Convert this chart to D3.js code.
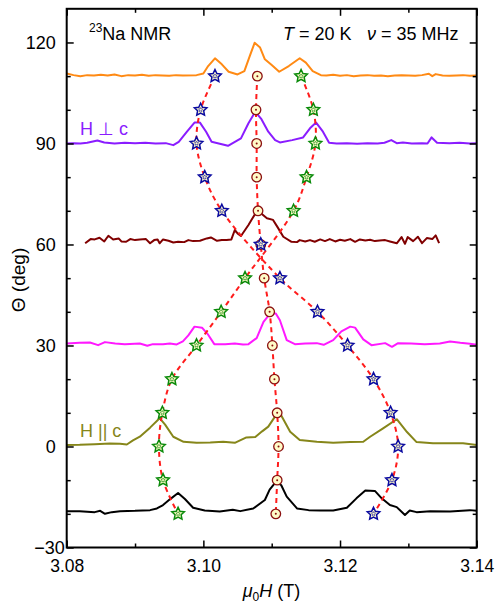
<!DOCTYPE html>
<html>
<head>
<meta charset="utf-8">
<title>23Na NMR angular dependence</title>
<script src="https://d3js.org/d3.v7.min.js"></script>
<style>
  body{ margin:0; background:#fff; }
  text{ font-family: Arial, "Liberation Sans", sans-serif; }
</style>
</head>
<body>
<svg width="497" height="602"></svg>
<script>
// ### Data ###
const xMajor = [3.08, 3.10, 3.12, 3.14];
const xMinor = [3.09, 3.11, 3.13];
const yMajor = [-30, 0, 30, 60, 90, 120];
const yMinor = [-20, -10, 10, 20, 40, 50, 70, 80, 100, 110];

// peak positions (T) against angle (deg)
const angles      = [110, 100, 90, 80, 70, 60, 50, 40, 30, 20, 10, 0, -10, -20];
const centerField = [3.1079, 3.1077, 3.1078, 3.1078, 3.1080, 3.1084, 3.1089, 3.1097, 3.1101, 3.1104, 3.1108, 3.1110, 3.1108, 3.1106];
const greenField  = [3.1143, 3.1161, 3.1164, 3.1151, 3.1132, null, 3.1061, 3.1026, 3.0990, 3.0954, 3.0940, 3.0935, 3.0941, 3.0963];
const blueField   = [3.1017, 3.0996, 3.0990, 3.1002, 3.1027, 3.1084, 3.1112, 3.1167, 3.1211, 3.1249, 3.1274, 3.1285, 3.1276, 3.1249];
const blueOffGuide = 60; // merged peak at 60 deg, the satellite guide line does not go through it

// spectra: [field (T), offset intensity on the angle axis]
const spec110 = [[3.0800,110.8],[3.0810,110.3],[3.0820,110.0],[3.0830,110.3],[3.0840,110.2],[3.0850,110.4],[3.0860,110.2],
  [3.0870,110.5],[3.0880,110.0],[3.0890,110.3],[3.0900,110.2],[3.0910,110.4],[3.0920,110.1],[3.0930,110.3],[3.0940,110.2],
  [3.0950,110.1],[3.0960,110.3],[3.0970,110.2],[3.0990,110.3],[3.1000,110.8],[3.1007,113.0],[3.1017,115.3],[3.1027,113.5],
  [3.1037,111.3],[3.1050,110.5],[3.1060,111.5],[3.1068,116.0],[3.1075,119.9],[3.1083,118.5],[3.1090,115.0],[3.1100,113.3],
  [3.1111,111.3],[3.1125,113.0],[3.1141,115.3],[3.1150,114.0],[3.1160,111.5],[3.1172,110.3],[3.1180,110.2],[3.1190,110.4],
  [3.1200,110.1],[3.1210,110.3],[3.1220,110.0],[3.1230,110.2],[3.1240,110.3],[3.1250,110.1],[3.1260,110.2],[3.1270,110.0],
  [3.1280,110.2],[3.1290,110.3],[3.1300,110.2],[3.1310,110.1],[3.1320,110.3],[3.1330,110.7],[3.1335,110.0],[3.1340,110.6],
  [3.1350,110.2],[3.1360,110.1],[3.1370,110.2],[3.1380,110.3],[3.1390,110.1],[3.1400,110.2]];

const spec90 = [[3.0800,90.0],[3.0810,90.1],[3.0820,90.0],[3.0830,90.2],[3.0845,90.9],[3.0855,90.3],[3.0870,90.0],
  [3.0885,90.2],[3.0900,90.1],[3.0915,90.2],[3.0930,90.0],[3.0945,90.1],[3.0956,89.5],[3.0964,90.5],[3.0976,93.5],
  [3.0987,96.2],[3.0995,96.2],[3.1004,93.5],[3.1012,90.5],[3.1036,89.3],[3.1055,91.5],[3.1066,96.0],[3.1076,99.4],
  [3.1085,97.2],[3.1095,93.5],[3.1105,91.0],[3.1112,90.3],[3.1130,91.0],[3.1146,91.8],[3.1156,94.5],[3.1165,96.2],
  [3.1175,93.5],[3.1184,90.2],[3.1195,90.0],[3.1210,90.1],[3.1225,89.9],[3.1240,90.1],[3.1255,90.0],[3.1265,90.2],
  [3.1275,91.0],[3.1283,90.1],[3.1292,90.3],[3.1305,90.0],[3.1320,90.1],[3.1328,90.0],[3.1334,91.8],[3.1342,90.2],
  [3.1360,90.1],[3.1375,90.2],[3.1390,90.0],[3.1400,90.1]];

const spec60 = [[3.0827,60.35],[3.0835,61.6],[3.0841,61.5],[3.0848,62.0],[3.0855,60.9],[3.0861,62.6],[3.0868,61.5],
  [3.0876,61.8],[3.0880,60.9],[3.0887,60.8],[3.0893,61.6],[3.0900,61.3],[3.0907,61.5],[3.0916,61.6],[3.0922,60.35],
  [3.0928,61.3],[3.0933,61.5],[3.0936,60.35],[3.0941,61.5],[3.0949,61.1],[3.0956,60.6],[3.0963,60.8],[3.0972,60.7],
  [3.0978,61.3],[3.0985,61.0],[3.0995,61.1],[3.1005,61.8],[3.1011,62.1],[3.1020,61.1],[3.1027,61.3],[3.1034,61.3],
  [3.1041,61.5],[3.1046,64.3],[3.1050,63.3],[3.1055,62.5],[3.1061,64.3],[3.1066,65.8],[3.1071,67.5],[3.1077,69.5],
  [3.1080,70.2],[3.1086,69.0],[3.1093,67.8],[3.1102,67.3],[3.1109,65.0],[3.1117,62.3],[3.1129,60.8],[3.1137,60.7],
  [3.1141,61.3],[3.1149,60.9],[3.1156,61.3],[3.1163,60.8],[3.1171,61.5],[3.1178,61.0],[3.1185,61.6],[3.1193,60.9],
  [3.1200,61.4],[3.1207,61.1],[3.1215,61.6],[3.1222,60.8],[3.1229,61.5],[3.1237,61.2],[3.1244,61.4],[3.1251,61.0],
  [3.1258,61.2],[3.1266,61.3],[3.1273,60.9],[3.1283,60.35],[3.1290,62.2],[3.1295,60.2],[3.1299,62.2],[3.1307,61.0],
  [3.1314,62.3],[3.1320,60.4],[3.1327,61.9],[3.1335,61.6],[3.1340,62.7],[3.1345,60.4]];

const spec30 = [[3.0800,30.6],[3.0819,30.8],[3.0834,30.9],[3.0846,30.1],[3.0856,31.0],[3.0871,30.6],[3.0885,30.4],
  [3.0907,30.6],[3.0918,29.9],[3.0926,30.4],[3.0941,30.4],[3.0951,30.6],[3.0961,30.3],[3.0970,31.2],[3.0978,33.0],
  [3.0987,35.6],[3.0998,35.3],[3.1007,33.2],[3.1016,30.4],[3.1032,30.4],[3.1046,30.6],[3.1058,30.3],[3.1066,30.4],
  [3.1078,32.2],[3.1088,37.0],[3.1098,39.55],[3.1106,39.5],[3.1112,37.5],[3.1122,31.6],[3.1134,30.4],[3.1149,30.6],
  [3.1166,30.7],[3.1176,30.2],[3.1190,31.6],[3.1202,34.2],[3.1215,35.6],[3.1222,35.3],[3.1234,31.8],[3.1246,30.1],
  [3.1266,30.7],[3.1276,29.6],[3.1285,30.7],[3.1304,30.6],[3.1324,30.4],[3.1346,30.6],[3.1361,31.2],[3.1376,30.8],
  [3.1390,30.5],[3.1400,30.2]];

const spec0 = [[3.0800,0.45],[3.0819,0.5],[3.0841,0.7],[3.0863,0.9],[3.0878,0.8],[3.0888,0.6],[3.0897,1.8],
  [3.0907,2.9],[3.0922,5.6],[3.0936,8.4],[3.0944,6.5],[3.0956,2.9],[3.0971,1.4],[3.0990,1.1],[3.1010,1.2],
  [3.1029,1.4],[3.1046,1.1],[3.1063,2.7],[3.1076,2.8],[3.1086,4.5],[3.1095,5.9],[3.1108,9.85],[3.1113,9.6],
  [3.1127,4.4],[3.1141,1.9],[3.1166,1.4],[3.1190,1.1],[3.1215,1.3],[3.1234,1.4],[3.1244,2.9],[3.1263,5.4],
  [3.1283,8.1],[3.1298,4.3],[3.1312,1.3],[3.1336,0.95],[3.1361,0.95],[3.1380,0.95],[3.1400,0.45]];

const specM20 = [[3.0800,-19.2],[3.0819,-19.2],[3.0841,-19.5],[3.0849,-19.1],[3.0856,-20.0],[3.0866,-19.5],[3.0878,-19.2],
  [3.0900,-19.1],[3.0922,-18.9],[3.0932,-18.4],[3.0941,-17.4],[3.0951,-15.7],[3.0963,-13.8],[3.0973,-15.6],[3.0985,-18.2],
  [3.1002,-19.0],[3.1024,-19.3],[3.1043,-18.8],[3.1054,-19.2],[3.1073,-18.4],[3.1090,-15.9],[3.1097,-12.8],[3.1107,-10.3],
  [3.1114,-11.5],[3.1122,-14.9],[3.1137,-18.4],[3.1154,-18.9],[3.1171,-19.0],[3.1190,-19.0],[3.1210,-18.2],[3.1224,-15.4],
  [3.1237,-13.1],[3.1251,-13.2],[3.1261,-15.4],[3.1273,-17.4],[3.1283,-18.0],[3.1295,-20.35],[3.1302,-19.0],[3.1312,-19.5],
  [3.1332,-19.2],[3.1361,-19.3],[3.1390,-18.9],[3.1400,-19.1]];

const spectra = [
  {data: spec110, color: "#ff8a14"},
  {data: spec90,  color: "#8a1cff"},
  {data: spec60,  color: "#800000"},
  {data: spec30,  color: "#ff19ff"},
  {data: spec0,   color: "#86861a"},
  {data: specM20, color: "#000000"}
];

// ### Chart ###
var svg = d3.select("svg"),
    margin = {top: 8.8, right: 20.3, bottom: 54.5, left: 66.7},
    width = +svg.attr("width") - margin.left - margin.right,
    height = +svg.attr("height") - margin.top - margin.bottom,
    g = svg.append("g").attr("transform", "translate(" + margin.left + "," + margin.top + ")");

var x = d3.scaleLinear().domain([3.08, 3.14]).range([0, width]);
var y = d3.scaleLinear().domain([-30, 130]).range([height, 0]);

var line = d3.line()
    .x(function(d) { return x(d[0]); })
    .y(function(d) { return y(d[1]); });

// spectra
spectra.forEach(function(s) {
  g.append("path")
      .datum(s.data)
      .attr("fill", "none")
      .attr("stroke", s.color)
      .attr("stroke-width", 2)
      .attr("stroke-linejoin", "round")
      .attr("d", line);
});

// dashed guide lines
var guide = d3.line()
    .curve(d3.curveCatmullRom)
    .x(function(d) { return x(d[0]); })
    .y(function(d) { return y(d[1]); });

function pairs(fields, skip) {
  return angles.map(function(a, i) { return [fields[i], a]; })
    .filter(function(d) { return d[0] != null && d[1] !== skip; });
}

[pairs(centerField), pairs(greenField), pairs(blueField, blueOffGuide)].forEach(function(pts) {
  g.append("path")
      .datum(pts)
      .attr("fill", "none")
      .attr("stroke", "#ff1c1c")
      .attr("stroke-width", 2)
      .attr("stroke-dasharray", "5,4")
      .attr("d", guide);
});

// markers
var fillPale = "#fffbc8";
var circ = g.append("g").selectAll("g").data(pairs(centerField)).enter().append("g")
    .attr("transform", function(d) { return "translate(" + x(d[0]) + "," + y(d[1]) + ")"; });
circ.append("circle").attr("r", 4.8).attr("fill", fillPale).attr("stroke", "#8b1010").attr("stroke-width", 1.3);
circ.append("circle").attr("r", 1).attr("fill", "#8b1010");

// five-pointed star outline: outer radius ro, inner radius ri
function starShape(ro, ri) {
  var pts = d3.range(10).map(function(i) { return [i * Math.PI / 5, i % 2 ? ri : ro]; });
  return d3.lineRadial().curve(d3.curveLinearClosed)(pts);
}
var bigStar = starShape(6.6, 3.2);
var smallStar = starShape(2.2, 1.1);

function stars(pts, color) {
  var s = g.append("g").selectAll("g").data(pts).enter().append("g")
      .attr("transform", function(d) { return "translate(" + x(d[0]) + "," + y(d[1]) + ")"; });
  s.append("path").attr("d", bigStar).attr("fill", fillPale).attr("stroke", color)
      .attr("stroke-width", 1.5).attr("stroke-linejoin", "miter");
  s.append("path").attr("d", smallStar).attr("fill", "none").attr("stroke", color).attr("stroke-width", 0.6);
}
stars(pairs(greenField), "#0a8a0a");
stars(pairs(blueField), "#0a0aa0");

// axes
function minus(d) { return d < 0 ? "\u2212" + (-d) : d; }

g.append("g")
    .attr("transform", "translate(0," + height + ")")
    .call(d3.axisBottom(x).tickValues(xMajor).tickSize(-7).tickPadding(12).tickFormat(d3.format(".2f")))
    .call(function(a) { a.select(".domain").remove(); });
g.append("g")
    .attr("transform", "translate(0," + height + ")")
    .call(d3.axisBottom(x).tickValues(xMinor).tickSize(-4).tickFormat(""))
    .call(function(a) { a.select(".domain").remove(); });
g.append("g")
    .call(d3.axisTop(x).tickValues(xMajor).tickSize(-7).tickFormat(""))
    .call(function(a) { a.select(".domain").remove(); });
g.append("g")
    .call(d3.axisTop(x).tickValues(xMinor).tickSize(-4).tickFormat(""))
    .call(function(a) { a.select(".domain").remove(); });

var yl = g.append("g")
    .call(d3.axisLeft(y).tickValues(yMajor).tickSize(-7).tickPadding(11).tickFormat(minus))
    .call(function(a) { a.select(".domain").remove(); });
yl.selectAll(".tick text").filter(function(d) { return d === -30; }).attr("dx", 9);
g.append("g")
    .call(d3.axisLeft(y).tickValues(yMinor).tickSize(-4).tickFormat(""))
    .call(function(a) { a.select(".domain").remove(); });
g.append("g")
    .attr("transform", "translate(" + width + ",0)")
    .call(d3.axisRight(y).tickValues(yMajor).tickSize(-7).tickFormat(""))
    .call(function(a) { a.select(".domain").remove(); });
g.append("g")
    .attr("transform", "translate(" + width + ",0)")
    .call(d3.axisRight(y).tickValues(yMinor).tickSize(-4).tickFormat(""))
    .call(function(a) { a.select(".domain").remove(); });

g.selectAll(".tick line").attr("stroke", "#000").attr("stroke-width", 1.5);
g.selectAll(".tick text")
    .attr("fill", "#000")
    .style("font-family", "Arial, 'Liberation Sans', sans-serif");
yl.selectAll(".tick text").style("font-size", "18px");
g.selectAll(".tick text").filter(function() { return this.parentNode.parentNode !== yl.node(); })
    .style("font-size", "17.5px");

g.append("rect")
    .attr("width", width).attr("height", height)
    .attr("fill", "none").attr("stroke", "#000").attr("stroke-width", 2);

// labels
var t1 = svg.append("text").attr("x", 89).attr("y", 39.5).attr("font-size", 18);
t1.append("tspan").attr("font-size", 12).attr("dy", -7.5).text("23");
t1.append("tspan").attr("dy", 7.5).text("Na NMR");

var t2 = svg.append("text").attr("x", 283).attr("y", 39.5).attr("font-size", 18);
t2.append("tspan").attr("font-style", "italic").text("T");
t2.append("tspan").text(" = 20 K");

var t3 = svg.append("text").attr("x", 367).attr("y", 39.5).attr("font-size", 18);
t3.append("tspan").attr("font-style", "italic").text("\u03bd");
t3.append("tspan").text(" = 35 MHz");

svg.append("text").attr("x", 80).attr("y", 135).attr("font-size", 18)
    .attr("fill", "#8a1cff").text("H \u22a5 c");
svg.append("text").attr("x", 80).attr("y", 436.7).attr("font-size", 18)
    .attr("fill", "#86861a").text("H || c");

svg.append("text")
    .attr("transform", "translate(25,280) rotate(-90)")
    .attr("text-anchor", "middle").attr("font-size", 19)
    .text("\u0398 (deg)");

var xl = svg.append("text").attr("x", 271.5).attr("y", 596.5)
    .attr("text-anchor", "middle").attr("font-size", 18);
xl.append("tspan").attr("font-style", "italic").text("\u03bc");
xl.append("tspan").attr("font-size", 12).attr("dy", 4).text("0");
xl.append("tspan").attr("font-style", "italic").attr("dy", -4).text("H");
xl.append("tspan").text(" (T)");
</script>
</body>
</html>
